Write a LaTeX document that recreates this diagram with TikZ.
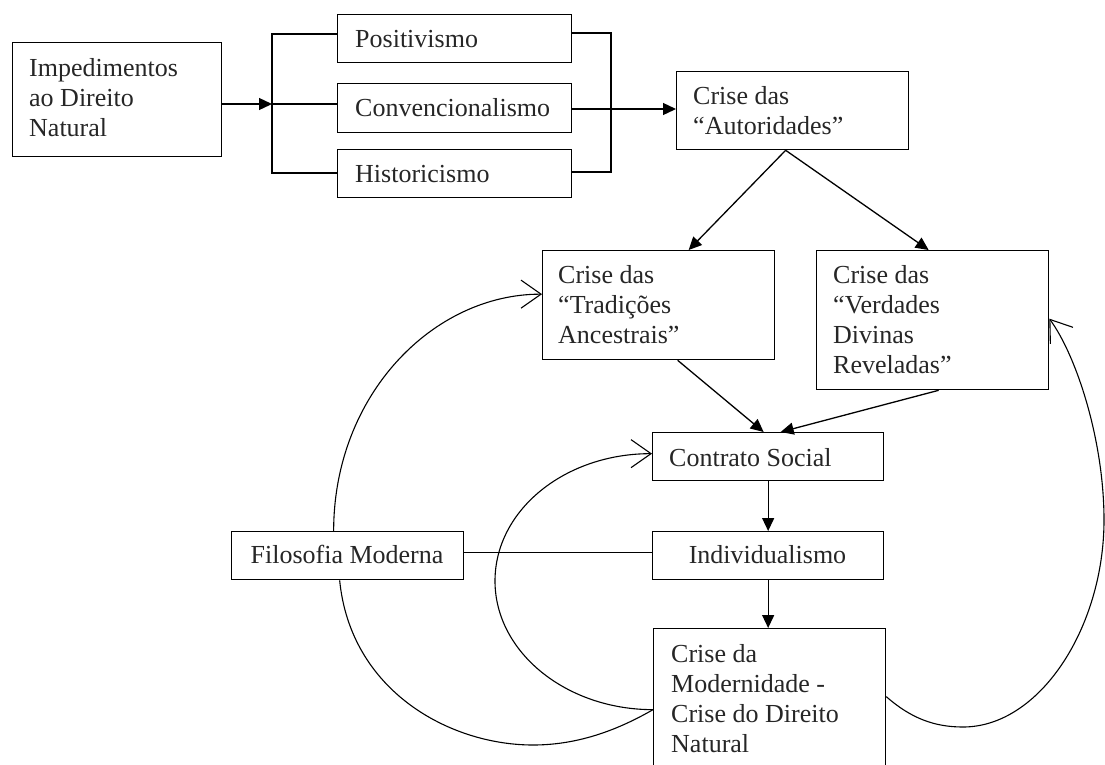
\documentclass[tikz,border=0pt]{standalone}
\usepackage{fontspec}
\setmainfont{Liberation Serif}
\usetikzlibrary{arrows.meta}
\begin{document}
\begin{tikzpicture}[x=1pt,y=-1pt,
  box/.style={draw, line width=1.3pt, anchor=north west, inner sep=0pt},
  txt/.style={anchor=north west, inner sep=0pt, align=left, font=\fontsize{26}{30}\selectfont, text=black!85},
  txtc/.style={anchor=base, inner sep=0pt, font=\fontsize{26}{30}\selectfont, text=black!85},
  link/.style={line width=1.3pt},
  arr/.style={line width=1.3pt, -{Triangle[length=13pt,width=12pt]}},
  curve/.style={line width=1.1pt},
  openarr/.style={line width=1.1pt, -{Straight Barb[length=20pt,width=28pt]}}
]
\useasboundingbox (0,0) rectangle (1105,764);
% boxes
\node[box, minimum width=209pt, minimum height=114pt] (imp) at (12,42) {};
\node[txt] (impt) at (29,55) {\strut Impedimentos\\ao Direito\\Natural};
\node[box, minimum width=234pt, minimum height=48pt] (pos) at (337,14) {};
\node[txt] (post) at (355,26) {\strut Positivismo};
\node[box, minimum width=234pt, minimum height=49pt] (conv) at (337,83) {};
\node[txt] (convt) at (355,95) {\strut Convencionalismo};
\node[box, minimum width=234pt, minimum height=48pt] (hist) at (337,149) {};
\node[txt] (histt) at (355,161) {\strut Historicismo};
\node[box, minimum width=232pt, minimum height=78pt] (aut) at (676,71) {};
\node[txt] (autt) at (693,83) {\strut Crise das\\“Autoridades”};
\node[box, minimum width=232pt, minimum height=109pt] (trad) at (542,250) {};
\node[txt] (tradt) at (558,262) {\strut Crise das\\“Tradições\\Ancestrais”};
\node[box, minimum width=232pt, minimum height=139pt] (ver) at (816,250) {};
\node[txt] (vert) at (833,262) {\strut Crise das\\“Verdades\\Divinas\\Reveladas”};
\node[box, minimum width=231pt, minimum height=48pt] (con) at (652,432) {};
\node[txt] (cont) at (669,445) {\strut Contrato Social};
\node[box, minimum width=231pt, minimum height=48pt] (ind) at (652,531) {};
\node[txtc] (indt) at (767.5,563) {Individualismo};
\node[box, minimum width=232pt, minimum height=48pt] (filo) at (231,531) {};
\node[txtc] (filot) at (347,563) {Filosofia Moderna};
\node[box, minimum width=232pt, minimum height=145pt] (mod) at (653,628) {};
\node[txt] (modt) at (671,641) {\strut Crise da\\Modernidade -\\Crise do Direito\\Natural};
% bracket coordinates
\coordinate (blt) at (272,34);
\coordinate (blm) at (272,104);
\coordinate (blb) at (272,173);
\coordinate (brt) at (611,33);
\coordinate (brm) at (611,109);
\coordinate (brb) at (611,172);
% brackets
\draw[arr] (imp.east |- blm) -- (blm);
\draw[link] (pos.west |- blt) -- (blt) -- (blb) -- (hist.west |- blb);
\draw[link] (blm) -- (conv.west |- blm);
\draw[link] (pos.east |- brt) -- (brt) -- (brb) -- (hist.east |- brb);
\draw[arr] (conv.east |- brm) -- (aut.west |- brm);
% straight arrows
\draw[arr] ([xshift=-7pt]aut.south) -- ([xshift=30pt]trad.north);
\draw[arr] ([xshift=-7pt]aut.south) -- ([xshift=-4pt]ver.north);
\draw[arr] ([xshift=19pt]trad.south) -- ([xshift=-4.5pt]con.north);
\draw[arr] ([xshift=6pt]ver.south) -- ([xshift=12.5pt]con.north);
\draw[arr] (con.south) -- (ind.north);
\draw[arr] (ind.south) -- (ind.south |- mod.north);
\draw[link] ([yshift=3pt]filo.east) -- ([yshift=3pt]ind.west);
% curves
\coordinate (innerleft) at (495,581);
\coordinate (ob) at (533,745);
\coordinate (rb) at (963,727);
\coordinate (rr) at (1104,520);
\draw[openarr] ([xshift=-14pt]filo.north) .. controls +(0,-136) and +(-109,0) .. ([yshift=11pt]trad.west);
\draw[openarr] ([yshift=-8.5pt]mod.west) .. controls +(-87,0) and +(0,71) .. (innerleft)
  .. controls +(0,-71) and +(-87,0) .. ([yshift=3pt]con.west);
\draw[curve] ([xshift=-8pt]filo.south) .. controls +(11,111) and +(-83,0) .. (ob)
  .. controls +(47,0) and +(-33,19) .. ([yshift=-8.5pt]mod.west);
\draw[openarr] ([yshift=4.5pt]mod.east) .. controls +(25,22) and +(-28,0) .. (rb)
  .. controls +(77,0) and +(0,107) .. (rr)
  .. controls +(0,-80) and +(27,37) .. ([yshift=1.5pt]ver.east);
\end{tikzpicture}
\end{document}
